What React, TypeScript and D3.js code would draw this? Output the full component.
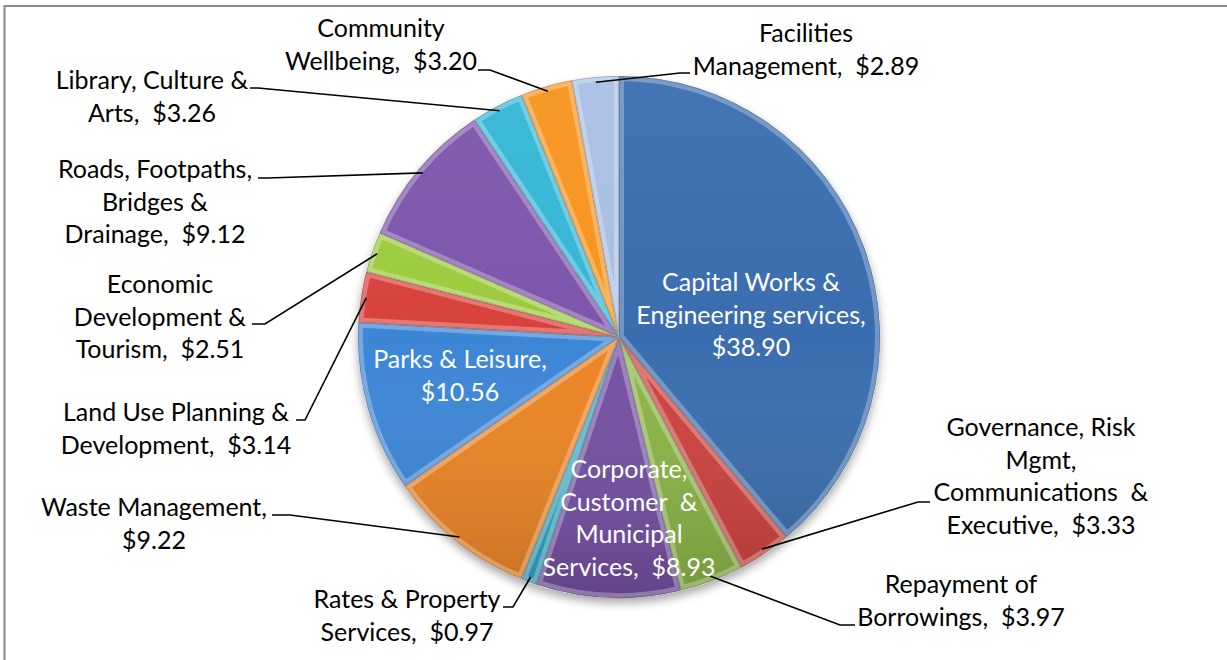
import React from "react";
import * as d3 from "d3";

const categories = [
  "Capital Works & Engineering services",
  "Governance, Risk Mgmt, Communications & Executive",
  "Repayment of Borrowings",
  "Corporate, Customer & Municipal Services",
  "Rates & Property Services",
  "Waste Management",
  "Parks & Leisure",
  "Land Use Planning & Development",
  "Economic Development & Tourism",
  "Roads, Footpaths, Bridges & Drainage",
  "Library, Culture & Arts",
  "Community Wellbeing",
  "Facilities Management",
];
const values = [38.9, 3.33, 3.97, 8.93, 0.97, 9.22, 10.56, 3.14, 2.51, 9.12, 3.26, 3.2, 2.89];
const labelLines = [
  ["Capital Works &", "Engineering services,"],
  ["Governance, Risk", "Mgmt,", "Communications  &"],
  ["Repayment of"],
  ["Corporate,", "Customer  &", "Municipal"],
  ["Rates & Property"],
  ["Waste Management,"],
  ["Parks & Leisure,"],
  ["Land Use Planning &"],
  ["Economic", "Development &"],
  ["Roads, Footpaths,", "Bridges &"],
  ["Library, Culture &"],
  ["Community"],
  ["Facilities"],
];
const lastLinePrefix = ["", "Executive,  ", "Borrowings,  ", "Services,  ", "Services,  ", "", "", "Development,  ", "Tourism,  ", "Drainage,  ", "Arts,  ", "Wellbeing,  ", "Management,  "];
const colors = ["#3A6DAF", "#CC423D", "#8AB446", "#7450A2", "#2FA4C2", "#EC8424", "#3C86D6", "#D8423D", "#9DCB3F", "#7D56AC", "#35B6D6", "#F7941E", "#A9BFE3"];
const inside = [true, false, false, true, false, false, true, false, false, false, false, false, false];

// label layout: [center x, first baseline y]
const labelPos: [number, number][] = [
  [751, 291], [1041, 436], [961, 593], [629, 478], [407, 608], [154, 516], [460, 368],
  [176, 421], [160, 293], [155, 178], [152, 89], [381, 37], [806, 42],
];
// leader elbow and end points
const leaderPts: ([number, number][] | null)[] = [
  null, [[918, 502], [930, 502]], [[840, 625], [855, 625]], null, [[513, 607], [503, 607]],
  [[290, 515], [272, 515]], null, [[305, 420], [296, 420]], [[265, 324], [252, 324]],
  [[268, 178], [258, 178]], [[258, 88], [250, 88]], [[490, 70], [478, 70]], [[680, 73], [690, 73]],
];

const W = 1227, H = 660;
const cx = 619, cy = 337, R = 261;
const LH = 32.7;
const FONT = "Lato, 'Noto Sans', sans-serif";

export default function App() {
  const pie = d3.pie<number>().sort(null).value((d) => d).startAngle(0).endAngle(2 * Math.PI);
  const arcs = pie(values);
  const arc = d3.arc<d3.PieArcDatum<number>>().innerRadius(0).outerRadius(R);
  const anchorArc = d3.arc<d3.PieArcDatum<number>>().innerRadius(R * 0.98).outerRadius(R * 0.98);
  const line = d3.line();

  return (
    <div style={{ position: "absolute", left: 0, top: 0 }}>
      <svg width={W} height={H} style={{ display: "block", background: "#fff" }}>
        <defs>
          <linearGradient id="light" gradientUnits="userSpaceOnUse" x1={0} y1={cy - R} x2={0} y2={cy + R}>
            <stop offset="0" stopColor="#fff" stopOpacity={0.05} />
            <stop offset="0.5" stopColor="#fff" stopOpacity={0} />
            <stop offset="1" stopColor="#000" stopOpacity={0.16} />
          </linearGradient>
          <linearGradient id="bevel" gradientUnits="userSpaceOnUse" x1={cx - R * 0.7} y1={cy - R} x2={cx + R * 0.4} y2={cy + R}>
            <stop offset="0" stopColor="#fff" stopOpacity={0.28} />
            <stop offset="0.35" stopColor="#fff" stopOpacity={0.0} />
            <stop offset="0.55" stopColor="#000" stopOpacity={0.06} />
            <stop offset="1" stopColor="#000" stopOpacity={0.3} />
          </linearGradient>
          <filter id="shadow" x="-10%" y="-10%" width="120%" height="125%">
            <feDropShadow dx={0} dy={5} stdDeviation={5} floodColor="#000" floodOpacity={0.35} />
          </filter>
          {arcs.map((a, i) => (
            <clipPath id={`clip${i}`} key={i}>
              <path d={arc(a) || ""} transform={`translate(${cx},${cy})`} />
            </clipPath>
          ))}
        </defs>
        <rect x={4.5} y={6} width={1400} height={800} fill="none" stroke="#888" strokeWidth={2} />
        <g>
          <circle cx={cx} cy={cy} r={R} fill="#fff" filter="url(#shadow)" />
          {arcs.map((a, i) => (
            <g key={i}>
              <path d={arc(a) || ""} transform={`translate(${cx},${cy})`} fill={colors[i]} />
              <g clipPath={`url(#clip${i})`}>
                <rect x={cx - R} y={cy - R} width={2 * R} height={2 * R} fill="url(#light)" />
                <path d={arc(a) || ""} transform={`translate(${cx},${cy})`} fill="none" stroke="url(#bevel)" strokeWidth={10} strokeLinejoin="round" />
                <path d={arc(a) || ""} transform={`translate(${cx},${cy})`} fill="none" stroke="#000" strokeOpacity={0.22} strokeWidth={1.5} />
              </g>
            </g>
          ))}
        </g>
        {arcs.map((a, i) => {
          const pts = leaderPts[i];
          if (!pts) return null;
          const [ax, ay] = anchorArc.centroid(a);
          const all: [number, number][] = [[cx + ax, cy + ay], ...pts];
          return <path key={i} d={line(all) || ""} fill="none" stroke="#000" strokeWidth={1.6} />;
        })}
        {arcs.map((a, i) => {
          const [x, y] = labelPos[i];
          const lines = [...labelLines[i]];
          const valStr = `$${values[i].toFixed(2)}`;
          const last = lastLinePrefix[i] + valStr;
          const all = [...lines, last];
          return (
            <text key={i} x={x} y={y} textAnchor="middle" fontFamily={FONT} fontSize={25}
              fill={inside[i] ? "#fff" : "#000"} style={{ whiteSpace: "pre" }}>
              {all.map((t, j) => (
                <tspan key={j} x={x} y={y + j * LH}>{t}</tspan>
              ))}
            </text>
          );
        })}
      </svg>
    </div>
  );
}
